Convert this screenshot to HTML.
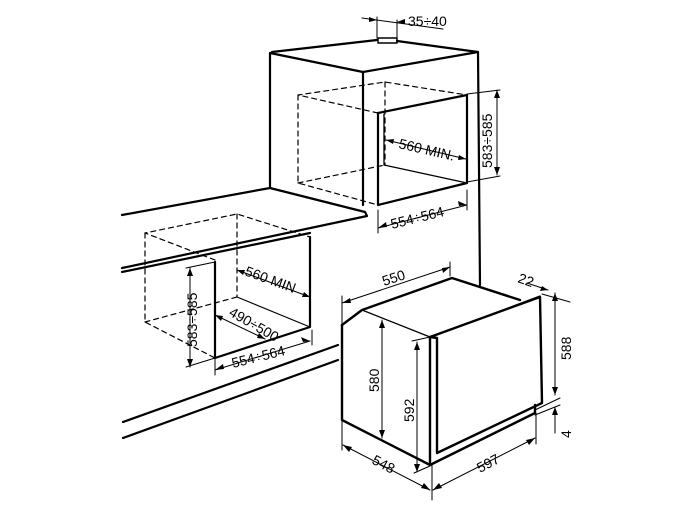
<!DOCTYPE html>
<html><head><style>
html,body{margin:0;padding:0;background:#fff;}
svg{display:block;}
text{font-family:"Liberation Sans",Arial,sans-serif;font-size:14px;fill:#000;}
</style></head><body>
<svg width="679" height="509" viewBox="0 0 679 509" xmlns="http://www.w3.org/2000/svg">
<g fill="none" stroke="#000" stroke-linecap="round" stroke-linejoin="round">
<g stroke-width="2.2">
<polyline points="270,188 270,53 363,72 478,52"/>
<polyline points="272,52 377,40"/>
<polyline points="397,41 478,52 480,285"/>
<line x1="363" y1="72" x2="363" y2="205"/>
<polygon points="378,113 467,95 467,183 378,205"/>
</g>
<line x1="384" y1="114" x2="384" y2="165" stroke-width="1.3"/>
<line x1="384" y1="165" x2="467" y2="183" stroke-width="1.3"/>
<rect x="378" y="38" width="19" height="5" stroke-width="1.5"/>
<g stroke-dasharray="5,4" stroke-width="1.2">
<polyline points="378,113 298,95 385,82 467,95"/>
<polyline points="298,95 298,183 378,205"/>
<polyline points="298,183 385,165"/>
<line x1="385" y1="82" x2="385" y2="165"/>
</g>
<g stroke-width="2.2">
<polyline points="122,215 270,188 365,212 367,216 122,268"/>
<line x1="122" y1="272" x2="310" y2="233"/>
<line x1="123" y1="422" x2="338" y2="345"/>
<line x1="123" y1="438" x2="338" y2="360"/>
</g>
<g stroke-dasharray="5,4" stroke-width="1.2">
<polyline points="215,260 145,233 237,214 310,237"/>
<polyline points="145,233 145,322 215,358"/>
<polyline points="145,322 237,297"/>
<line x1="237" y1="214" x2="237" y2="297"/>
</g>
<g stroke-width="2.2">
<polyline points="215,262 215,358 310,327 310,237"/>
</g>
<line x1="237" y1="297" x2="310" y2="327" stroke-width="1.2"/>
<g stroke-width="2.4">
<polyline points="342,325 362,310 452,278 520,300"/>
<polyline points="342,325 342,420 430,465 535,413 535,405"/>
<polyline points="430,337 430,465"/>
<polygon points="430,337 540,297 542,403 437,453 437,338"/>
<line x1="362" y1="310" x2="430" y2="337" stroke-width="1.3"/>
</g>
<line x1="434" y1="336" x2="540" y2="296" stroke-width="1.3"/>
<g stroke-width="1">
<line x1="342" y1="303" x2="450" y2="267"/><line x1="342" y1="296" x2="342" y2="330"/><line x1="450" y1="262" x2="450" y2="276"/>
<line x1="382" y1="320" x2="382" y2="438"/>
<line x1="417" y1="342" x2="417" y2="472"/><line x1="412" y1="341" x2="430" y2="337"/><line x1="414" y1="473" x2="430" y2="466"/>
<line x1="343" y1="445" x2="430" y2="490"/><line x1="342" y1="420" x2="342" y2="450"/><line x1="432" y1="465" x2="432" y2="500"/>
<line x1="433" y1="490" x2="535" y2="438"/><line x1="536" y1="413" x2="536" y2="444"/>
<line x1="555" y1="293" x2="555" y2="395"/><line x1="542" y1="294" x2="570" y2="302"/><line x1="535" y1="410" x2="560" y2="398"/><line x1="535" y1="415" x2="560" y2="405"/>
<line x1="555" y1="407" x2="555" y2="433"/>
<line x1="527" y1="283" x2="548" y2="290"/>
<line x1="190" y1="268" x2="190" y2="367"/><line x1="186" y1="268" x2="215" y2="262"/><line x1="186" y1="367" x2="215" y2="358"/>
<line x1="215" y1="370" x2="310" y2="341"/><line x1="215" y1="358" x2="215" y2="375"/><line x1="312" y1="330" x2="312" y2="345"/>
<line x1="215" y1="315" x2="265" y2="339"/>
<line x1="237" y1="270" x2="310" y2="297"/>
<line x1="497" y1="90" x2="497" y2="175"/><line x1="467" y1="94" x2="500" y2="90"/><line x1="467" y1="182" x2="500" y2="176"/>
<line x1="378" y1="228" x2="467" y2="205"/><line x1="378" y1="210" x2="378" y2="233"/><line x1="467" y1="190" x2="467" y2="210"/>
<line x1="386" y1="140" x2="466" y2="159"/>
<line x1="362" y1="18" x2="443" y2="29"/><line x1="377" y1="17" x2="377" y2="38"/><line x1="397" y1="20" x2="397" y2="40"/>
</g>
</g>
<g fill="#000">
<polygon points="342,303 350,298 351,303"/><polygon points="450,267 442,268 443,273"/>
<polygon points="382,320 379,328 385,328"/><polygon points="382,438 379,430 385,430"/>
<polygon points="417,342 414,350 420,350"/><polygon points="417,472 414,464 420,464"/>
<polygon points="343,445 349,452 352,447"/><polygon points="430,490 421,488 424,483"/>
<polygon points="433,490 439,483 442,488"/><polygon points="535,438 529,445 526,440"/>
<polygon points="555,293 552,301 558,301"/><polygon points="555,395 552,387 558,387"/>
<polygon points="555,407 552,415 558,415"/><polygon points="548,290 540,291 542,286"/>
<polygon points="190,268 187,276 193,276"/><polygon points="190,367 187,359 193,359"/>
<polygon points="215,370 223,364 224,369"/><polygon points="310,341 303,342 301,337"/>
<polygon points="215,315 223,316 221,321"/><polygon points="265,339 257,338 259,333"/>
<polygon points="237,270 245,270 243,275"/><polygon points="310,297 302,297 304,292"/>
<polygon points="497,90 494,98 500,98"/><polygon points="497,175 494,167 500,167"/>
<polygon points="378,228 386,222 387,227"/><polygon points="467,205 459,206 458,201"/>
<polygon points="386,140 394,139 393,144"/><polygon points="466,159 458,160 459,155"/>
<polygon points="377,20 369,17 369,22"/><polygon points="397,22 405,19 405,24"/>
</g>
<g>
<text x="408" y="26">35÷40</text>
<text transform="translate(398,148) rotate(13)">560 MIN.</text>
<text transform="translate(492,168) rotate(-90)">583÷585</text>
<text transform="translate(392,229) rotate(-14)">554÷564</text>
<text transform="translate(244,275) rotate(20)">560 MIN</text>
<text transform="translate(197,347) rotate(-90)">583÷585</text>
<text transform="translate(228,315) rotate(30)">490÷500</text>
<text transform="translate(233,368) rotate(-14)">554÷564</text>
<text transform="translate(384,286) rotate(-18)">550</text>
<text transform="translate(379,392) rotate(-90)">580</text>
<text transform="translate(414,422) rotate(-90)">592</text>
<text transform="translate(371,463) rotate(28)">548</text>
<text transform="translate(480,473) rotate(-28)">597</text>
<text transform="translate(517,282) rotate(20)">22</text>
<text transform="translate(571,360) rotate(-90)">588</text>
<text transform="translate(571,438) rotate(-90)">4</text>
</g>
</svg>
</body></html>
